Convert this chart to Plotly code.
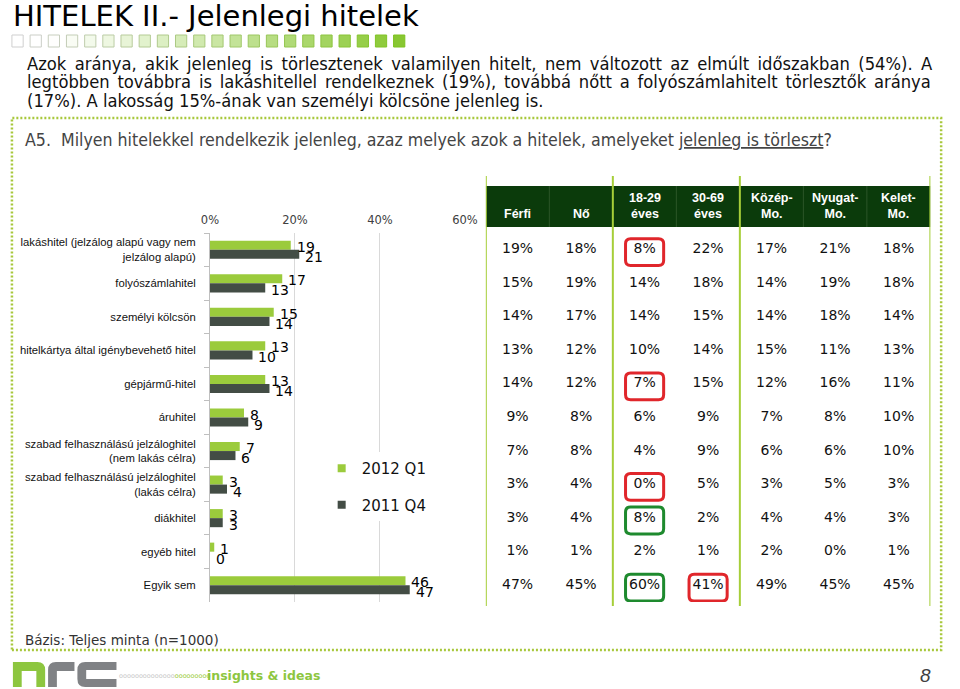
import plotly.graph_objects as go

W, H = 960, 689

# ---------------- data ----------------
categories = [
    "lakáshitel (jelzálog alapú vagy nem<br>jelzálog alapú)",
    "folyószámlahitel",
    "személyi kölcsön",
    "hitelkártya által igénybevehető hitel",
    "gépjármű-hitel",
    "áruhitel",
    "szabad felhasználású jelzáloghitel<br>(nem lakás célra)",
    "szabad felhasználású jelzáloghitel<br>(lakás célra)",
    "diákhitel",
    "egyéb hitel",
    "Egyik sem",
]
q1_2012 = [19, 17, 15, 13, 13, 8, 7, 3, 3, 1, 46]
q4_2011 = [21, 13, 14, 10, 14, 9, 6, 4, 3, 0, 47]
series_names = ["2012 Q1", "2011 Q4"]

x_ticks = [0, 20, 40, 60]
x_tick_labels = ["0%", "20%", "40%", "60%"]

table_headers = ["Férfi", "Nő", "18-29<br>éves", "30-69<br>éves",
                 "Közép-<br>Mo.", "Nyugat-<br>Mo.", "Kelet-<br>Mo."]
ferfi = [19, 15, 14, 13, 14, 9, 7, 3, 3, 1, 47]
no = [18, 19, 17, 12, 12, 8, 8, 4, 4, 1, 45]
age_18_29 = [8, 14, 14, 10, 7, 6, 4, 0, 8, 2, 60]
age_30_69 = [22, 18, 15, 14, 15, 9, 9, 5, 2, 1, 41]
kozep = [17, 14, 14, 15, 12, 7, 6, 3, 4, 2, 49]
nyugat = [21, 19, 18, 11, 16, 8, 6, 5, 4, 0, 45]
kelet = [18, 18, 14, 13, 11, 10, 10, 3, 3, 1, 45]
table_columns = [ferfi, no, age_18_29, age_30_69, kozep, nyugat, kelet]

# highlighted cells: (row, column, kind)
highlights = [(0, 2, "red"), (4, 2, "red"), (7, 2, "red"),
              (8, 2, "green"), (10, 2, "green"), (10, 3, "red")]

title_text = "HITELEK II.- Jelenlegi hitelek"
paragraph_lines = [
    "Azok aránya, akik jelenleg is törlesztenek valamilyen hitelt, nem változott az elmúlt időszakban (54%). A",
    "legtöbben továbbra is lakáshitellel rendelkeznek (19%), továbbá nőtt a folyószámlahitelt törlesztők aránya",
    "(17%). A lakosság 15%-ának van személyi kölcsöne jelenleg is.",
]
question = "A5.  Milyen hitelekkel rendelkezik jelenleg, azaz melyek azok a hitelek, amelyeket <u>jelenleg is törleszt</u>?"
base_note = "Bázis: Teljes minta (n=1000)"
page_no = "8"

# ---------------- styling ----------------
GREEN = "#9BCB3C"
DARK = "#434D45"
LIME_LINE = "#A6CE39"
HEADER_BG = "#0B3B0B"
WORD_SPACING = [3.2, 2.6, 0]   # emulate the justified paragraph


def px(x):
    return x / W


def py(y):
    return 1 - y / H


fig = go.Figure()

# bars
bar_colors = [GREEN, DARK]
for name, vals, col in zip(series_names, [q1_2012, q4_2011], bar_colors):
    fig.add_trace(go.Bar(
        y=categories, x=vals, orientation="h", name=name,
        marker=dict(color=col, line=dict(width=0)),
        showlegend=False, hoverinfo="skip",
    ))
# legend proxies (small square swatches)
for i, (name, col) in enumerate(zip(series_names, bar_colors)):
    fig.add_trace(go.Scatter(
        x=[None], y=[None], mode="markers", name=name,
        marker=dict(symbol="square", size=8, color=col),
        legendgroup=f"g{i}", showlegend=True,
    ))

# table text trace (on second x axis, sharing the category y axis)
tx, ty, tt = [], [], []
for ci, col in enumerate(table_columns):
    for ri, v in enumerate(col):
        tx.append(ci)
        ty.append(categories[ri])
        tt.append(f"{v}%")
fig.add_trace(go.Scatter(
    x=tx, y=ty, text=tt, mode="text", xaxis="x2", yaxis="y",
    textfont=dict(family="DejaVu Sans", size=14, color="#111111"),
    showlegend=False, hoverinfo="skip", cliponaxis=False,
))

annotations = []
# bar value labels
for vals, ys in [(q1_2012, 3), (q4_2011, -7)]:
    for c, v in zip(categories, vals):
        annotations.append(dict(
            x=v, y=c, xref="x", yref="y", text=str(v), showarrow=False,
            xanchor="left", yanchor="middle", xshift=4, yshift=ys,
            font=dict(family="DejaVu Sans", size=14, color="#000000"),
        ))

# table header text
for ci, h in enumerate(table_headers):
    annotations.append(dict(
        x=ci, y=py(223), xref="x2", yref="paper", text=h, showarrow=False,
        xanchor="center", yanchor="bottom", align="center",
        font=dict(family="Liberation Sans", size=12.5, color="white", weight="bold"),
    ))

# slide texts
annotations.append(dict(
    x=px(2), y=py(16.5), xref="paper", yref="paper", text=title_text,
    showarrow=False, xanchor="left", yanchor="middle",
    font=dict(family="DejaVu Sans", size=29, color="#000000"),
))
for i, line in enumerate(paragraph_lines):
    txt = line
    if WORD_SPACING[i]:
        txt = f'<span style="word-spacing:{WORD_SPACING[i]}px">{line}</span>'
    annotations.append(dict(
        x=px(16), y=py(63 + 18.5 * i), xref="paper", yref="paper", text=txt,
        showarrow=False, xanchor="left", yanchor="middle",
        font=dict(family="DejaVu Sans Condensed", size=18.2, color="#111111"),
    ))
annotations.append(dict(
    x=px(14), y=py(140), xref="paper", yref="paper", text=question,
    showarrow=False, xanchor="left", yanchor="middle",
    font=dict(family="DejaVu Sans Condensed", size=17.6, color="#444444"),
))
annotations.append(dict(
    x=px(14), y=py(640), xref="paper", yref="paper", text=base_note,
    showarrow=False, xanchor="left", yanchor="middle",
    font=dict(family="DejaVu Sans", size=13.5, color="#333333"),
))
annotations.append(dict(
    x=px(111), y=py(676), xref="paper", yref="paper",
    text='<span style="color:#C8C8C8">oooooooooooooo</span><span style="color:#9BCB3C">ooooooooo</span>',
    showarrow=False, xanchor="left", yanchor="middle",
    font=dict(family="DejaVu Sans", size=6.5),
))
annotations.append(dict(
    x=px(201), y=py(675), xref="paper", yref="paper", text="insights &amp; ideas",
    showarrow=False, xanchor="left", yanchor="middle",
    font=dict(family="DejaVu Sans", size=12.5, color="#8DC63F", weight="bold"),
))
annotations.append(dict(
    x=px(938), y=py(675), xref="paper", yref="paper", text=page_no,
    showarrow=False, xanchor="center", yanchor="middle",
    font=dict(family="Liberation Sans", size=19, color="#404040", style="italic"),
))

shapes = []
# header background
shapes.append(dict(type="rect", xref="x2", yref="paper", x0=-0.5, x1=6.5,
                   y0=py(227), y1=py(186), fillcolor=HEADER_BG,
                   line=dict(width=0), layer="below"))
for xb in [0.5, 2.5, 4.5, 5.5]:
    shapes.append(dict(type="line", xref="x2", yref="paper", x0=xb, x1=xb,
                       y0=py(227), y1=py(186),
                       line=dict(color="#2C5528", width=1)))
# green table separators
for xb in [-0.5, 1.5, 3.5, 6.5]:
    shapes.append(dict(type="line", xref="x2", yref="paper", x0=xb, x1=xb,
                       y0=py(606), y1=py(176),
                       line=dict(color=LIME_LINE, width=2)))

# highlight boxes (rounded)
hx, hy = 0.30, 0.40
rx, ry = 0.08, 0.15
for r, c, kind in highlights:
    col = "#E0262B" if kind == "red" else "#1E8A2E"
    x0, x1 = c - hx, c + hx
    yc = r + 0.07
    y0, y1 = yc - hy, yc + hy
    path = (f"M{x0+rx},{y0} L{x1-rx},{y0} Q{x1},{y0} {x1},{y0+ry} "
            f"L{x1},{y1-ry} Q{x1},{y1} {x1-rx},{y1} L{x0+rx},{y1} "
            f"Q{x0},{y1} {x0},{y1-ry} L{x0},{y0+ry} Q{x0},{y0} {x0+rx},{y0} Z")
    shapes.append(dict(type="path", xref="x2", yref="y", path=path,
                       line=dict(color=col, width=3)))

# dotted frame
shapes.append(dict(type="rect", xref="paper", yref="paper",
                   x0=px(3), x1=px(954), y0=py(650), y1=py(118),
                   line=dict(color="#A8C83C", width=2.5, dash="2px,2px")))


def hexblend(a, b, t):
    a = [int(a[i:i + 2], 16) for i in (1, 3, 5)]
    b = [int(b[i:i + 2], 16) for i in (1, 3, 5)]
    return "#" + "".join(f"{round(a[k] + (b[k] - a[k]) * t):02x}" for k in range(3))


# decorative squares under title
n_sq = 22
for i in range(n_sq):
    t = i / (n_sq - 1)
    fill = hexblend("#FFFFFF", "#7DC21E", max(0.0, (t - 0.08)) ** 1.1)
    line = hexblend("#CFCFCF", "#7DC21E", t)
    x0 = 3 + i * 18.6
    shapes.append(dict(type="rect", xref="paper", yref="paper",
                       x0=px(x0), x1=px(x0 + 11.5), y0=py(47), y1=py(35),
                       fillcolor=fill, line=dict(color=line, width=1)))


def ppath(points_cmds):
    out = []
    for cmd, pts in points_cmds:
        coords = " ".join(f"{px(x):.5f},{py(y):.5f}" for x, y in pts)
        out.append(f"{cmd}{coords}")
    return " ".join(out) + " Z"


# nrc logo
n_path = ppath([("M", [(4, 687)]), ("L", [(4, 662)]), ("L", [(29, 662)]),
                ("Q", [(37, 662), (37, 670)]), ("L", [(37, 687)]), ("L", [(28, 687)]),
                ("L", [(28, 671)]), ("L", [(13, 671)]), ("L", [(13, 687)])])
r_path = ppath([("M", [(40, 687)]), ("L", [(40, 670)]), ("Q", [(40, 662), (48, 662)]),
                ("L", [(67, 662)]), ("L", [(67, 671)]), ("L", [(49, 671)]), ("L", [(49, 687)])])
c_path = ppath([("M", [(110, 662)]), ("L", [(78, 662)]), ("Q", [(70, 662), (70, 670)]),
                ("L", [(70, 679)]), ("Q", [(70, 687), (78, 687)]), ("L", [(110, 687)]),
                ("L", [(110, 679)]), ("L", [(79, 679)]), ("L", [(79, 670)]), ("L", [(110, 670)])])
shapes.append(dict(type="path", xref="paper", yref="paper", path=n_path,
                   fillcolor="#8DC63F", line=dict(width=0)))
for p in (r_path, c_path):
    shapes.append(dict(type="path", xref="paper", yref="paper", path=p,
                       fillcolor="#808285", line=dict(width=0)))

fig.update_layout(
    width=W, height=H, autosize=False,
    margin=dict(l=0, r=0, t=0, b=0),
    paper_bgcolor="white", plot_bgcolor="white",
    barmode="group", bargap=0.46, bargroupgap=0,
    showlegend=True,
    legend=dict(x=px(320), y=py(452), xanchor="left", yanchor="top",
                bgcolor="white", borderwidth=0, tracegroupgap=14,
                font=dict(family="DejaVu Sans", size=15, color="#111111"),
                traceorder="grouped"),
    xaxis=dict(domain=[px(205.7), px(466.7)], range=[0, 60], side="top",
               tickmode="array", tickvals=x_ticks, ticktext=x_tick_labels,
               showgrid=True, gridcolor="#D9D9D9", gridwidth=1,
               zeroline=False, showline=False, ticks="", ticklabelstandoff=6,
               tickfont=dict(family="DejaVu Sans", size=11.5, color="#404040"),
               fixedrange=True),
    yaxis=dict(domain=[py(602), py(233)], type="category",
               categoryorder="array", categoryarray=categories,
               range=[len(categories) - 0.5, -0.5],
               showline=True, linecolor="#BFBFBF", linewidth=1,
               ticks="outside", ticklen=5, tickcolor="#BFBFBF",
               tickson="boundaries", showgrid=False, ticklabelstandoff=11,
               tickfont=dict(family="Liberation Sans", size=11.3, color="#111111"),
               fixedrange=True),
    xaxis2=dict(domain=[px(488), px(943)], range=[-0.5, 6.5], anchor="y",
                visible=False, fixedrange=True),
    annotations=annotations,
    shapes=shapes,
)

fig.write_html(
    "out.html",
    config={"displayModeBar": False, "responsive": False, "staticPlot": True},
    post_script=("document.body.style.margin='0';document.body.style.padding='0';"
                 "document.body.style.overflow='hidden';"
                 "document.documentElement.style.overflow='hidden';"),
)
